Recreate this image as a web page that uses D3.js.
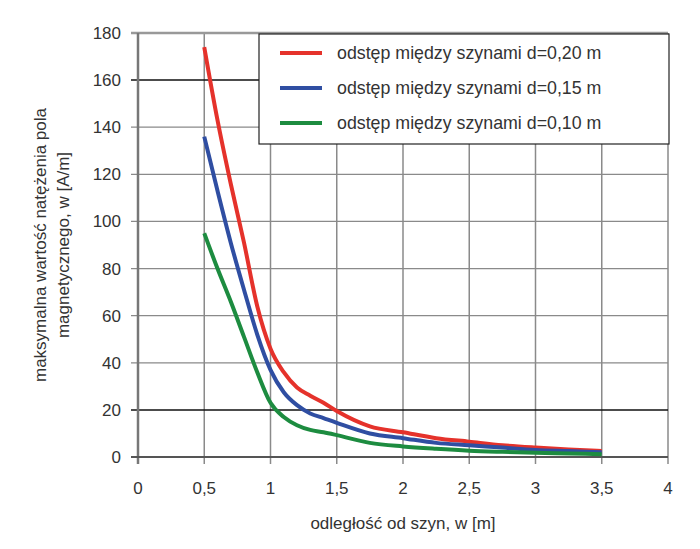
<!DOCTYPE html>
<html>
<head>
<meta charset="utf-8">
<script src="https://cdn.jsdelivr.net/npm/d3@7"></script>
<style>
  body { margin: 0; background: #fff; }
  text { font-family: Arial, "Liberation Sans", sans-serif; fill: #333; }
</style>
</head>
<body>
<svg id="chart" width="700" height="549"></svg>
<script>
// data
const distances = [0.5, 0.6, 0.7, 0.8, 0.9, 1.0, 1.1, 1.2, 1.3, 1.4, 1.5, 1.75, 2, 2.25, 2.5, 2.75, 3, 3.25, 3.5];
const d020 = [174, 143, 116, 91, 64, 46, 36, 29.5, 26, 23, 19.5, 13, 10.5, 8, 6.5, 5, 4, 3.2, 2.6];
const d015 = [136, 113, 91, 71, 52, 37, 27.5, 22, 18.5, 16.5, 14.5, 10, 8, 6, 5, 4, 3, 2.5, 2];
const d010 = [95, 80, 66, 51, 36, 23, 17, 13.5, 11.5, 10.5, 9.3, 6, 4.5, 3.5, 2.7, 2.2, 1.8, 1.5, 1.2];
const seriesNames = ["odstęp między szynami d=0,20 m", "odstęp między szynami d=0,15 m", "odstęp między szynami d=0,10 m"];
const seriesColors = ["#e5322b", "#2f4ea2", "#1d8c40"];
const xTicks = [0, 0.5, 1, 1.5, 2, 2.5, 3, 3.5, 4];
const yTicks = [0, 20, 40, 60, 80, 100, 120, 140, 160, 180];

const svg = d3.select("#chart");
const plotLeft = 138, plotRight = 668, plotTop = 33, plotBottom = 457;

const x = d3.scaleLinear().domain([0, 4]).range([plotLeft, plotRight]);
const y = d3.scaleLinear().domain([0, 180]).range([plotBottom, plotTop]);

// grid
svg.append("g").selectAll("line").data(xTicks.slice(1)).join("line")
    .attr("x1", d => x(d)).attr("x2", d => x(d))
    .attr("y1", plotTop).attr("y2", plotBottom + 7)
    .attr("stroke", "#8a8a8a").attr("stroke-width", 1.5);
svg.append("g").selectAll("line").data(yTicks.slice(1)).join("line")
    .attr("x1", plotLeft - 7).attr("x2", plotRight)
    .attr("y1", d => y(d)).attr("y2", d => y(d))
    .attr("stroke", d => (d == 20 || d == 160) ? "#111" : "#8a8a8a")
    .attr("stroke-width", d => (d == 20 || d == 160) ? 1.5 : 1.3);
svg.append("line").attr("x1", plotLeft - 7).attr("x2", plotRight).attr("y1", plotTop).attr("y2", plotTop)
    .attr("stroke", "#999").attr("stroke-width", 2.5);

// axes lines
svg.append("line").attr("x1", plotLeft).attr("x2", plotLeft).attr("y1", plotTop).attr("y2", plotBottom + 7)
    .attr("stroke", "#777").attr("stroke-width", 2.5);
svg.append("line").attr("x1", plotLeft - 7).attr("x2", plotRight).attr("y1", plotBottom).attr("y2", plotBottom)
    .attr("stroke", "#555").attr("stroke-width", 2);

// tick labels
const fmt = d => String(d).replace(".", ",");
svg.append("g").selectAll("text").data(yTicks).join("text")
    .attr("x", 121).attr("y", d => y(d) + 6)
    .attr("text-anchor", "end").attr("font-size", 17)
    .text(d => d);
svg.append("g").selectAll("text").data(xTicks).join("text")
    .attr("x", d => x(d)).attr("y", 494)
    .attr("text-anchor", "middle").attr("font-size", 17)
    .text(fmt);

// axis titles
svg.append("text").attr("x", 403).attr("y", 529)
    .attr("text-anchor", "middle").attr("font-size", 17)
    .text("odległość od szyn, w [m]");
const yt = svg.append("text").attr("transform", "translate(46,245) rotate(-90)")
    .attr("text-anchor", "middle").attr("font-size", 17);
yt.append("tspan").attr("x", 0).attr("dy", 0).text("maksymalna wartość natężenia pola");
yt.append("tspan").attr("x", 0).attr("dy", 23).text("magnetycznego, w [A/m]");

// lines
const allSeries = [d020, d015, d010];
const line = d3.line().x((d, i) => x(distances[i])).y(d => y(d)).curve(d3.curveMonotoneX);
svg.append("g").selectAll("path").data(allSeries).join("path")
    .attr("d", line)
    .attr("fill", "none")
    .attr("stroke", (d, i) => seriesColors[i])
    .attr("stroke-width", 4)
    .attr("stroke-linejoin", "round");

// legend
const lg = svg.append("g");
lg.append("rect").attr("x", 259).attr("y", 34).attr("width", 410).attr("height", 110)
    .attr("fill", "#fff").attr("stroke", "#222").attr("stroke-width", 1.2);
const items = lg.selectAll("g").data(seriesNames).join("g")
    .attr("transform", (d, i) => "translate(0," + (53 + i * 35) + ")");
items.append("line").attr("x1", 280).attr("x2", 322).attr("y1", 0).attr("y2", 0)
    .attr("stroke", (d, i) => seriesColors[i]).attr("stroke-width", 4);
items.append("text").attr("x", 337).attr("y", 6).attr("font-size", 17.8).text(d => d);
</script>
</body>
</html>
